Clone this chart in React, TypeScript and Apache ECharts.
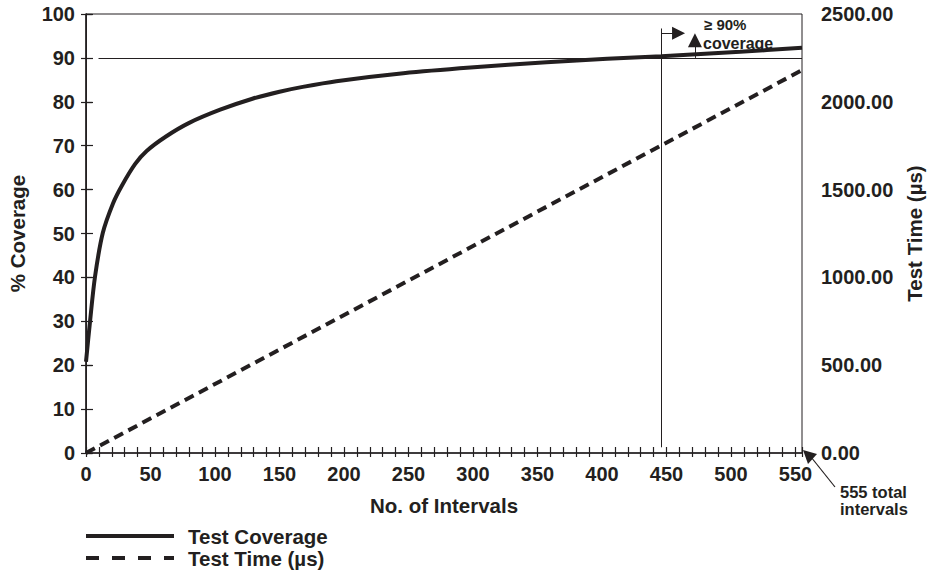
import React, { useEffect, useRef } from "react";
import * as echarts from "echarts";

const coverageX = [0, 3, 7, 13, 21, 28, 38, 47, 62, 80, 104, 129, 150, 168, 194, 246, 298, 357, 404, 446, 507, 555];
const coverageY = [20.8, 29.6, 40.2, 50.1, 56.9, 61.0, 65.8, 68.8, 72.1, 75.2, 78.2, 80.7, 82.3, 83.4, 84.7, 86.5, 87.8, 89.0, 89.8, 90.4, 91.4, 92.3];
const timeX = [0, 555];
const timeY = [0, 2180];
const xMax = 555;
const leftTicks = { min: 0, max: 100, interval: 10 };
const rightTicks = { min: 0, max: 2500, interval: 500 };
const INK = "#231f20";
const FONT = "'Liberation Sans', Arial, sans-serif";

export default function App() {
  const ref = useRef<HTMLDivElement>(null);
  useEffect(() => {
    const chart = echarts.init(ref.current!, null, { renderer: "svg" });
    const label = { color: INK, fontFamily: FONT, fontWeight: "bold", fontSize: 20 };
    const nameStyle = { color: INK, fontFamily: FONT, fontWeight: "bold", fontSize: 20.5 };
    const baseX = {
      type: "value",
      min: 0,
      max: xMax,
      interval: 10,
      position: "bottom",
      splitLine: { show: false },
    };
    chart.setOption({
      animation: false,
      grid: {
        left: 86,
        right: 125,
        top: 14,
        bottom: 122,
        show: true,
        borderColor: INK,
        borderWidth: 1,
        containLabel: false,
        outerBoundsMode: "none",
      },
      xAxis: [
        {
          ...baseX,
          axisLine: { show: true, lineStyle: { color: INK, width: 1.5 } },
          axisTick: { show: true, inside: false, length: 4, lineStyle: { color: INK, width: 1.2 } },
          axisLabel: {
            ...label,
            margin: 11,
            formatter: (v: number) => (v % 50 === 0 && v <= 550 ? String(v) : ""),
          },
          name: "No. of Intervals",
          nameLocation: "middle",
          nameGap: 42,
          nameTextStyle: { ...nameStyle },
        },
        {
          ...baseX,
          axisLine: { show: false },
          axisTick: { show: true, inside: true, length: 6, lineStyle: { color: INK, width: 1.2 } },
          axisLabel: { show: false },
        },
      ],
      yAxis: [
        {
          type: "value",
          position: "left",
          ...leftTicks,
          splitLine: { show: false },
          axisLine: { show: true, lineStyle: { color: INK, width: 1.5 } },
          axisTick: { show: true, inside: false, length: 5, lineStyle: { color: INK, width: 1.2 } },
          axisLabel: { ...label, margin: 11 },
          name: "% Coverage",
          nameLocation: "middle",
          nameRotate: 90,
          nameGap: 58,
          nameTextStyle: { ...nameStyle },
        },
        {
          type: "value",
          position: "right",
          ...rightTicks,
          splitLine: { show: false },
          axisLine: { show: true, lineStyle: { color: INK, width: 1 } },
          axisTick: { show: true, inside: false, length: 6, lineStyle: { color: INK, width: 1.2 } },
          axisLabel: { ...label, margin: 19, formatter: (v: number) => v.toFixed(2) },
          name: "Test Time (µs)",
          nameLocation: "middle",
          nameRotate: 90,
          nameGap: 100,
          nameTextStyle: { ...nameStyle },
        },
        {
          type: "value",
          position: "left",
          ...leftTicks,
          splitLine: { show: false },
          axisLine: { show: false },
          axisTick: { show: true, inside: true, length: 7, lineStyle: { color: INK, width: 1.2 } },
          axisLabel: { show: false },
        },
      ],
      series: [
        {
          name: "Test Coverage",
          type: "line",
          xAxisIndex: 0,
          yAxisIndex: 0,
          data: coverageX.map((x, i) => [x, coverageY[i]]),
          showSymbol: false,
          smooth: 0.3,
          lineStyle: { color: INK, width: 4 },
          markLine: {
            silent: true,
            symbol: ["none", "none"],
            label: { show: false },
            lineStyle: { color: INK, width: 1, type: "solid" },
            data: [
              [{ coord: [9.7, 90] }, { coord: [555, 90] }],
              [{ coord: [446, 1.3] }, { coord: [446, 96.7] }],
              [
                { coord: [446, 95.6], symbol: "none" },
                { coord: [459.3, 95.6], symbol: "triangle", symbolSize: [13, 13] },
              ],
              [
                { coord: [472, 90], symbol: "none" },
                { coord: [472, 94.0], symbol: "triangle", symbolSize: [14, 14] },
              ],
            ],
          },
        },
        {
          name: "Test Time (µs)",
          type: "line",
          xAxisIndex: 0,
          yAxisIndex: 1,
          data: timeX.map((x, i) => [x, timeY[i]]),
          showSymbol: false,
          lineStyle: { color: INK, width: 4, type: [10, 6] },
        },
      ],
      graphic: [
        {
          type: "text",
          x: 704,
          y: 24,
          style: {
            text: "≥ 90%",
            fill: INK,
            font: `bold 15px ${FONT}`,
            verticalAlign: "middle",
          },
        },
        {
          type: "text",
          x: 703,
          y: 43,
          style: { text: "coverage", fill: INK, font: `bold 16px ${FONT}`, verticalAlign: "middle" },
        },
        {
          type: "line",
          shape: { x1: 811, y1: 457, x2: 835, y2: 487 },
          style: { stroke: INK, lineWidth: 1.2 },
        },
        {
          type: "polygon",
          shape: { points: [[803, 450], [817, 454], [808, 464]] },
          style: { fill: INK },
        },
        {
          type: "text",
          x: 840,
          y: 492,
          style: { text: "555 total", fill: INK, font: `bold 16.5px ${FONT}`, verticalAlign: "middle" },
        },
        {
          type: "text",
          x: 840,
          y: 509,
          style: { text: "intervals", fill: INK, font: `bold 16.5px ${FONT}`, verticalAlign: "middle" },
        },
        {
          type: "line",
          shape: { x1: 86, y1: 536, x2: 174, y2: 536 },
          style: { stroke: INK, lineWidth: 4 },
        },
        {
          type: "text",
          x: 188,
          y: 536,
          style: { text: "Test Coverage", fill: INK, font: `bold 20.5px ${FONT}`, verticalAlign: "middle" },
        },
        {
          type: "line",
          shape: { x1: 86, y1: 558, x2: 174, y2: 558 },
          style: { stroke: INK, lineWidth: 4, lineDash: [13, 13] },
        },
        {
          type: "text",
          x: 188,
          y: 558,
          style: { text: "Test Time (µs)", fill: INK, font: `bold 20.5px ${FONT}`, verticalAlign: "middle" },
        },
      ],
    });
    return () => chart.dispose();
  }, []);
  return (
    <div
      ref={ref}
      style={{ position: "absolute", left: 0, top: 0, width: 927, height: 575 }}
    />
  );
}
